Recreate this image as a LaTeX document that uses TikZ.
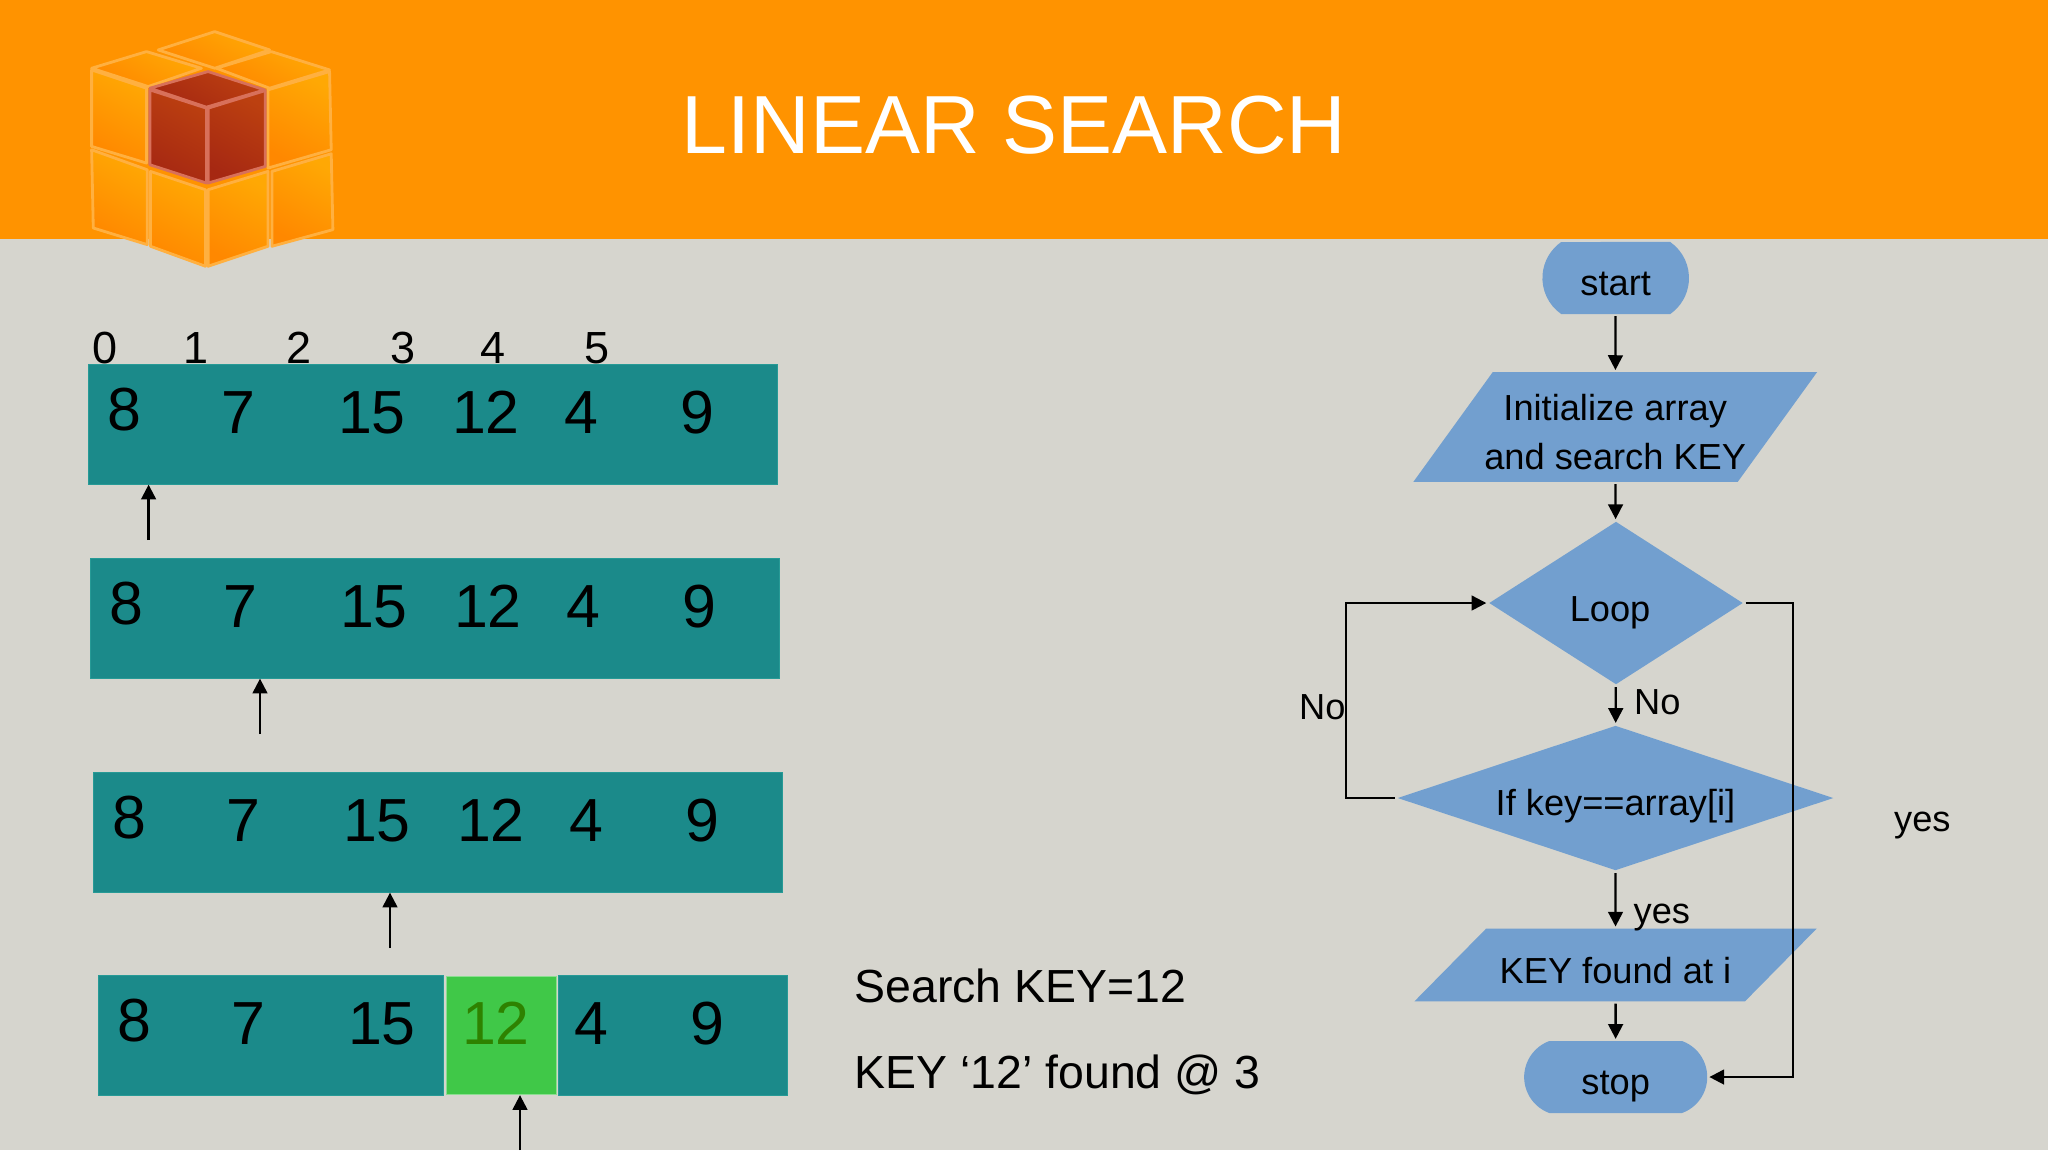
\documentclass[tikz,border=0pt]{standalone}
\usepackage{fontspec}
\setmainfont{Liberation Sans}
\usetikzlibrary{arrows.meta,shapes.geometric,shapes.misc}
\definecolor{headbar}{HTML}{FF9300}
\definecolor{slide}{HTML}{D6D5CE}
\definecolor{arrayteal}{HTML}{1B8A8A}
\definecolor{arrayedge}{HTML}{279A96}
\definecolor{hitgreen}{HTML}{40C848}
\definecolor{hittext}{HTML}{2E8200}
\definecolor{flowblue}{HTML}{729FCF}
\definecolor{cubelight}{HTML}{FFA804}
\definecolor{cubedeep}{HTML}{FF8800}
\definecolor{cubeline}{HTML}{FFB040}
\definecolor{darklight}{HTML}{BC4010}
\definecolor{darkdeep}{HTML}{A62812}
\definecolor{darkline}{HTML}{D8705A}
\tikzset{
	arraybox/.style={fill=arrayteal,draw=arrayedge,line width=.3pt,anchor=north west,inner sep=0pt,minimum height=1.195cm},
	cell/.style={anchor=base,inner sep=0pt,font=\fontsize{17.3}{20}\selectfont},
	index/.style={anchor=base,inner sep=0pt,font=\fontsize{12.8}{15}\selectfont},
	flowtext/.style={anchor=base west,inner sep=0pt,font=\fontsize{10.3}{13.9}\selectfont},
	flowshape/.style={fill=flowblue,inner sep=0pt,outer sep=.6pt,align=center,font=\fontsize{10.3}{13.9}\selectfont},
	terminal/.style={flowshape,rounded rectangle,minimum height=.72cm,text height=12.5pt,text depth=2.3pt},
	ioshape/.style={flowshape,trapezium,trapezium stretches body=true},
	decide/.style={flowshape,diamond},
	arr/.style={line width=.65pt,-{Triangle[length=4.2pt,width=4.2pt]}},
	face/.style={draw=#1,line width=.8pt,line join=round},
	cubeface/.style={face=cubeline,left color=cubelight,right color=cubedeep,shading angle=-30},
	cubedark/.style={face=darkline,left color=darklight,right color=darkdeep,shading angle=-30}
}
\begin{document}
\begin{tikzpicture}[x=.01cm,y=-.01cm]
	\useasboundingbox (0,0) rectangle (2048,1150);
	\fill[slide] (0,0) rectangle (2048,1150);
	\fill[headbar] (0,0) rectangle (2048,239);
	\node[anchor=base,inner sep=0pt,text=white,font=\fontsize{23.45}{28}\selectfont] (title) at (1014,153.5) {LINEAR SEARCH};
	\begin{scope}[shift={(60,0)},x=.003333cm,y=-.003333cm]
		\foreach \ax/\ay/\bx/\by/\cx/\cy/\dx/\dy in {465/95/630/150/465/205/295/150,95/205/260/155/425/205/265/260,470/205/635/155/810/210/630/265,95/210/260/265/260/490/95/440,95/450/262/510/262/735/100/685,272/515/437/570/437/800/272/740,445/570/625/515/625/740/445/800,625/270/810/215/815/450/625/505,637/515/815/462/820/690/637/740}
			\path[cubeface] (\ax,\ay) -- (\bx,\by) -- (\cx,\cy) -- (\dx,\dy) -- cycle;
		\foreach \ax/\ay/\bx/\by/\cx/\cy/\dx/\dy in {270/265/445/215/615/270/440/322,270/270/440/325/440/550/270/495,445/325/617/272/617/500/445/550}
			\path[cubedark] (\ax,\ay) -- (\bx,\by) -- (\cx,\cy) -- (\dx,\dy) -- cycle;
	\end{scope}
	\foreach \x [count=\i from 0] in {105.5,196.5,299.5,403,493,597}
		\node[index] (idx\i) at (\x,363.5) {\i};
	\foreach \name/\rx/\ry in {rowa/88/364,rowb/90/558,rowc/93/772}{
		\node[arraybox,minimum width=6.89cm] (\name) at (\rx,\ry) {};
		\foreach \dx/\dy/\val [count=\i] in {36.6/66/8,150.5/69/7,284/69/15,398/69/12,493.5/69/4,609/69/9}
			\node[cell] (\name\i) at (\rx+\dx,\ry+\dy) {\val};
	}
	\node[arraybox,minimum width=3.45cm] (rowdl) at (98,975) {};
	\node[arraybox,fill=hitgreen,draw=hitgreen!60!white,minimum width=1.095cm,minimum height=1.18cm] (hit) at (446,976) {};
	\node[arraybox,minimum width=2.29cm] (rowdr) at (558,975) {};
	\foreach \dx/\dy/\val [count=\i] in {36.6/66/8,150.5/69/7,284/69/15,493.5/69/4,609/69/9}
		\node[cell] (rowd\i) at (98+\dx,975+\dy) {\val};
	\node[cell,text=hittext] (rowdhit) at (496,1044) {12};
	\coordinate (taila) at (148.6,540);
	\coordinate (tailb) at (260,734);
	\coordinate (tailc) at (390,948);
	\coordinate (taild) at (520,1150);
	\draw[arr] (taila) -- (taila |- rowa.south);
	\draw[arr] (tailb) -- (tailb |- rowb.south);
	\draw[arr] (tailc) -- (tailc |- rowc.south);
	\draw[arr] (taild) -- (taild |- hit.south);
	\node[anchor=base west,inner sep=0pt,font=\fontsize{13.2}{16}\selectfont] (keytext) at (854,1002) {Search KEY=12};
	\node[anchor=base west,inner sep=0pt,font=\fontsize{13.2}{16}\selectfont] (foundtext) at (854,1088) {KEY ‘12’ found @ 3};
	\node[terminal,minimum width=1.465cm,rounded rectangle arc length=110] (start) at (1615.7,278) {start};
	\node[ioshape,trapezium left angle=47,trapezium right angle=133,minimum width=4.035cm,minimum height=1.097cm] (init) at (1615.2,427) {\rule{0pt}{10.2pt}Initialize array\\\makebox[2.4cm]{and search KEY}};
	\node[decide,shape aspect=1.55,minimum width=2.55cm,minimum height=1.64cm,text height=12.5pt,text depth=2.15pt] (loop) at (1616,603) {Loop\hspace{3.4pt}};
	\node[decide,shape aspect=3,minimum width=4.37cm,minimum height=1.46cm,text height=12.5pt,text depth=2.65pt] (cond) at (1615.5,798) {If key==array[i]};
	\node[ioshape,trapezium left angle=35.8,trapezium right angle=144.2,minimum width=4.02cm,minimum height=.727cm,text height=12.5pt,text depth=2.2pt] (found) at (1615.5,965) {KEY found at i};
	\node[terminal,minimum width=1.83cm,rounded rectangle arc length=140] (stop) at (1615.7,1077) {stop};
	\draw[arr] (start) -- (init);
	\draw[arr] (init) -- (loop);
	\draw[arr] (loop) -- (cond);
	\draw[arr] (cond) -- (found);
	\draw[arr] (found) -- (stop);
	\draw[arr] (cond.west) -- ++(-49,0) |- (loop.west);
	\draw[arr] (loop.east) -- ++(47,0) |- (stop.east);
	\node[flowtext] (noleft) at (1298.5,719) {No};
	\node[flowtext] (nodown) at (1633.5,714) {No};
	\node[flowtext] (yesdown) at (1633,923.5) {yes};
	\node[flowtext] (yesright) at (1893.5,831) {yes};
\end{tikzpicture}
\end{document}
